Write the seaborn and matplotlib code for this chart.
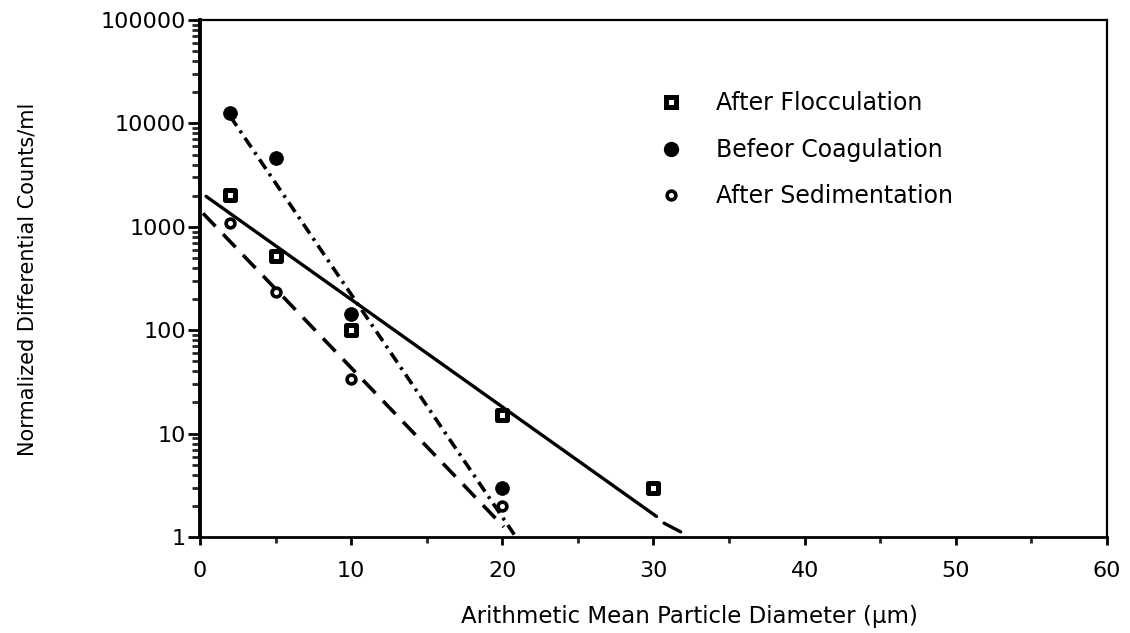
import numpy as np
import pandas as pd
import matplotlib
matplotlib.use("Agg")
import matplotlib.pyplot as plt
from matplotlib.lines import Line2D
from matplotlib.ticker import FixedLocator, FixedFormatter, LogLocator, NullFormatter
import seaborn as sns

# ---- data ----
floc_x = [2, 5, 10, 20, 30]
floc_y = [2050, 520, 100, 15, 3.0]
coag_x = [2, 5, 10, 20]
coag_y = [12500, 4600, 145, 3.0]
sed_x = [2, 5, 10, 20]
sed_y = [1100, 235, 34, 2.0]

# fitted trend lines (end points)
floc_fit_x = [0.4, 30.2]
floc_fit_y = [1970, 1.58]
floc_ext_x = [30.7, 31.8]
floc_ext_y = [1.36, 1.12]
coag_fit_x = [2.0, 20.8]
coag_fit_y = [11700, 1.05]
sed_fit_x = [0.2, 20.1]
sed_fit_y = [1350, 1.25]

x_ticks = [0, 10, 20, 30, 40, 50, 60]
x_ticklabels = ["0", "10", "20", "30", "40", "50", "60"]
y_ticks = [1, 10, 100, 1000, 10000, 100000]
y_ticklabels = ["1", "10", "100", "1000", "10000", "100000"]

labels = ["After Flocculation", "Befeor Coagulation", "After Sedimentation"]
x_title = "Arithmetic Mean Particle Diameter (\u00b5m)"
y_title = "Normalized Differential Counts/ml"

sns.set_style("ticks")
plt.rcParams["font.family"] = ["DejaVu Sans"]
plt.rcParams["text.color"] = "black"
plt.rcParams["axes.labelcolor"] = "black"

fig = plt.figure(figsize=(11.3, 6.33), dpi=100)
ax = fig.add_axes([0.177, 0.1517, 0.9796 - 0.177, 0.9684 - 0.1517])
ax.set_yscale("log")
ax.set_xlim(0, 60)
ax.set_ylim(1, 100000)

# trend lines
sns.lineplot(x=floc_fit_x, y=floc_fit_y, color="black", lw=2.4, ax=ax)
sns.lineplot(x=floc_ext_x, y=floc_ext_y, color="black", lw=2.4, ax=ax)
sns.lineplot(x=coag_fit_x, y=coag_fit_y, color="black", lw=2.6,
             linestyle=(0, (3.2, 1.6, 0.8, 1.6)), ax=ax)
sns.lineplot(x=sed_fit_x, y=sed_fit_y, color="black", lw=2.6,
             linestyle=(0, (5, 3)), ax=ax)

# data points
sns.scatterplot(x=floc_x, y=floc_y, marker="s", s=55, color="white",
                edgecolor="black", linewidth=3.6, zorder=5, ax=ax)
sns.scatterplot(x=coag_x, y=coag_y, marker="o", s=100, color="black",
                edgecolor="black", linewidth=0.5, zorder=5, ax=ax)
sns.scatterplot(x=sed_x, y=sed_y, marker="o", s=40, color="white",
                edgecolor="black", linewidth=2.6, zorder=5, ax=ax)

# axes styling
for side in ["left", "right", "top", "bottom"]:
    ax.spines[side].set_visible(True)
    ax.spines[side].set_color("black")
ax.spines["left"].set_linewidth(2.8)
ax.spines["bottom"].set_linewidth(2.0)
ax.spines["top"].set_linewidth(1.6)
ax.spines["right"].set_linewidth(1.6)

ax.xaxis.set_major_locator(FixedLocator(x_ticks))
ax.xaxis.set_major_formatter(FixedFormatter(x_ticklabels))
ax.xaxis.set_minor_locator(FixedLocator([5, 15, 25, 35, 45, 55]))
ax.yaxis.set_major_locator(FixedLocator(y_ticks))
ax.yaxis.set_major_formatter(FixedFormatter(y_ticklabels))
ax.yaxis.set_minor_locator(LogLocator(base=10, subs=np.arange(2, 10)))
ax.yaxis.set_minor_formatter(NullFormatter())

ax.tick_params(axis="x", which="major", direction="out", length=6, width=2,
               labelsize=16, pad=11, colors="black")
ax.tick_params(axis="x", which="minor", direction="out", length=4, width=2)
ax.tick_params(axis="y", which="major", direction="out", length=9, width=2,
               labelsize=16, pad=1, colors="black")
ax.tick_params(axis="y", which="minor", direction="out", length=6, width=2)

ax.set_xlabel(x_title, fontsize=16.5)
ax.xaxis.set_label_coords(0.540, -(617 - 537) / 517)
ax.xaxis.label.set_va("center")

ax.set_ylabel(y_title, fontsize=15)
ax.yaxis.set_label_coords(-(200 - 27) / 907, 0.5 + (278.5 - 279.5) / 517)
ax.yaxis.label.set_va("center")

handles = [
    Line2D([], [], ls="none", marker="s", markersize=7.4, markerfacecolor="white",
           markeredgecolor="black", markeredgewidth=3.6),
    Line2D([], [], ls="none", marker="o", markersize=10, markerfacecolor="black",
           markeredgecolor="black"),
    Line2D([], [], ls="none", marker="o", markersize=6.3, markerfacecolor="white",
           markeredgecolor="black", markeredgewidth=2.6),
]
leg = ax.legend(handles, labels, loc="upper left", bbox_to_anchor=(0.496, 0.880),
                frameon=False, fontsize=17, handlelength=1.0, handletextpad=1.4,
                labelspacing=0.95, borderaxespad=0)
for t in leg.get_texts():
    t.set_color("black")

fig.savefig("out.png", dpi=100, facecolor="white")
